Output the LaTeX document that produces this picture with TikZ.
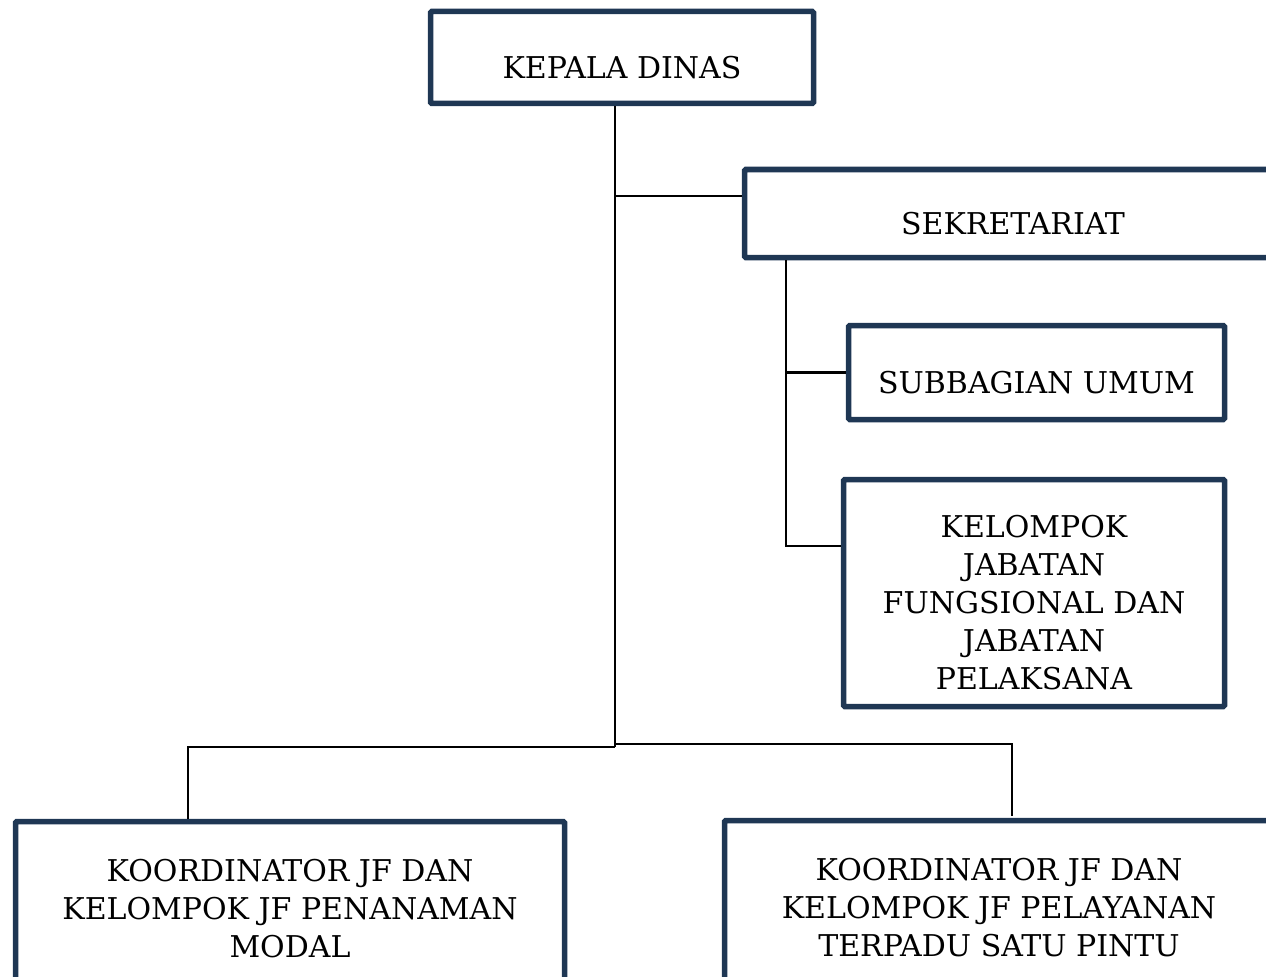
\documentclass[tikz,border=0pt]{standalone}
\usepackage{fontspec}
\setmainfont{DejaVu Serif}
\usepackage{tikz}
\usetikzlibrary{positioning,calc}
\usepackage{xcolor}
\definecolor{dinasnavy}{RGB}{31,55,84}
\definecolor{dinasdark}{RGB}{0,0,0}
\newcommand{\pxu}{0.75pt}
\tikzset{
  unitbox/.style={draw=dinasnavy, line width=5.5*\pxu, rectangle, rounded corners=1pt, inner sep=0pt},
  unittext/.style={font=\fontsize{22.5}{28.5}\selectfont, align=center, text=dinasdark, yshift=-10*\pxu},
  orgline/.style={draw=dinasdark, line width=2.6*\pxu}
}
\begin{document}
\begin{tikzpicture}[x=0.75pt, y=-0.75pt]
\useasboundingbox (0,0) rectangle (1266,977);
\node[unitbox, minimum width=383*\pxu, minimum height=92*\pxu, label={[unittext]center:KEPALA DINAS}] (kepala) at (622,57.5) {};
\node[unitbox, minimum width=537*\pxu, minimum height=88*\pxu, label={[unittext]center:SEKRETARIAT}] (sekre) at (1013,213.5) {};
\node[unitbox, minimum width=376*\pxu, minimum height=94*\pxu, label={[unittext]center:SUBBAGIAN UMUM}] (subbag) at (1036.5,372.5) {};
\node[unitbox, minimum width=381*\pxu, minimum height=227*\pxu, label={[unittext]center:KELOMPOK\\JABATAN\\FUNGSIONAL DAN\\JABATAN\\PELAKSANA}] (kelompok) at (1034,593) {};
\node[unitbox, minimum width=549*\pxu, minimum height=175*\pxu, label={[unittext, yshift=10*\pxu]center:KOORDINATOR JF DAN\\KELOMPOK JF PENANAMAN\\MODAL}] (jfmodal) at (290,909) {};
\node[unitbox, minimum width=549*\pxu, minimum height=175*\pxu, label={[unittext, yshift=10*\pxu]center:KOORDINATOR JF DAN\\KELOMPOK JF PELAYANAN\\TERPADU SATU PINTU}] (jfptsp) at (999,908) {};

\coordinate (jsek) at (615,196);
\coordinate (jbot) at (615,747);
\coordinate (jleft) at (188,747);
\coordinate (jmid) at (615,744);
\coordinate (jright) at (1012,744);
\coordinate (jsub) at (786,546);

\draw[orgline] (kepala.south -| jbot) -- (jbot);
\draw[orgline] (jsek) -- (jsek -| sekre.west);
\draw[orgline] (sekre.south -| jsub) -- (jsub) -- (jsub -| kelompok.west);
\draw[orgline] (jsub |- subbag.west) -- (subbag.west);
\draw[orgline] (jbot) -- (jleft) -- (jleft |- jfmodal.north);
\draw[orgline] (jmid) -- (jright) -- ([yshift=2*\pxu]jright |- jfptsp.north);
\end{tikzpicture}
\end{document}
